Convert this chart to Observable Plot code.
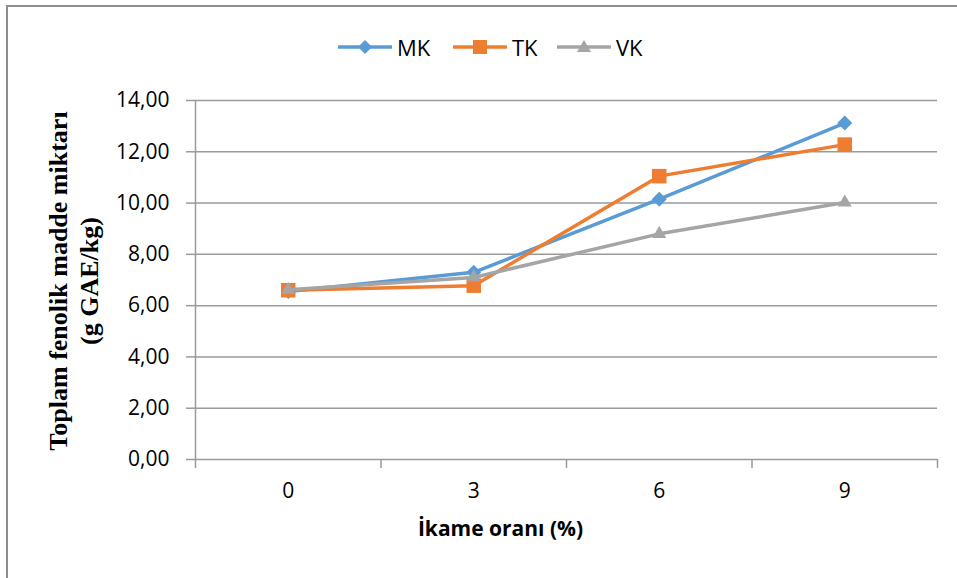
<!DOCTYPE html>
<html>
<head>
<meta charset="utf-8">
<script src="https://cdn.jsdelivr.net/npm/d3@7"></script>
<script src="https://cdn.jsdelivr.net/npm/@observablehq/plot@0.6"></script>
<style>
  html, body { margin: 0; padding: 0; background: #fff; }
  #wrap { position: relative; width: 957px; height: 578px; overflow: hidden; font-family: "Open Sans", sans-serif; }
  #border { position: absolute; left: 6px; top: 5px; right: -10px; bottom: -10px;
            border-left: 2px solid #8e8e8e; border-top: 2px solid #8e8e8e; pointer-events: none; }
  #legend { position: relative; height: 80px; }
  .item { position: absolute; top: 34px; display: flex; align-items: center; font-size: 22px; color: #000; line-height: 26px; }
  .item svg { display: block; margin-right: 5px; }
</style>
</head>
<body>
<div id="wrap">
  <div id="border"></div>
  <div id="legend"></div>
  <div id="chart"></div>
</div>
<script>
// Replacement ratio categories (%)
const categories = [0, 3, 6, 9];
// Total phenolic content (g GAE/kg) per series
const mk = [6.55, 7.30, 10.15, 13.12];
const tk = [6.60, 6.78, 11.05, 12.28];
const vk = [6.62, 7.10, 8.80, 10.02];
const seriesNames = ["MK", "TK", "VK"];
const seriesColors = ["#5B9BD5", "#ED7D31", "#A5A5A5"];
const yTicks = [0, 2, 4, 6, 8, 10, 12, 14];
const xTitle = "İkame oranı (%)";
const yTitle = "Toplam fenolik madde miktarı\n(g GAE/kg)";

const values = [mk, tk, vk];
const rows = seriesNames.flatMap((s, i) => categories.map((c, j) => ({series: s, x: c, y: values[i][j]})));

const grey = "#9a9a9a";
const markerStyle = {
  MK: {symbol: "square", r: 6, rotate: 45},
  TK: {symbol: "square", r: 8.2, rotate: 0},
  VK: {symbol: "triangle", r: 5.2, rotate: 0}
};

const seriesMarks = seriesNames.flatMap((s, i) => {
  const data = rows.filter(d => d.series === s);
  const m = markerStyle[s];
  return [
    Plot.line(data, {x: "x", y: "y", stroke: seriesColors[i], strokeWidth: 3.5}),
    Plot.dot(data, {x: "x", y: "y", symbol: m.symbol, r: m.r, rotate: m.rotate, fill: seriesColors[i], stroke: "none"})
  ];
});

const chart = Plot.plot({
  width: 957,
  height: 498,
  marginTop: 20,
  marginLeft: 195,
  marginRight: 20,
  marginBottom: 119,
  style: {fontFamily: "'Open Sans', sans-serif", fontSize: "21px", color: "#000", background: "transparent", overflow: "visible"},
  x: {type: "linear", domain: [-1.5, 10.5]},
  y: {domain: [0, 14]},
  marks: [
    Plot.gridY(yTicks.slice(1), {stroke: grey, strokeOpacity: 1, strokeWidth: 1.5}),
    Plot.ruleY([0], {stroke: grey, strokeWidth: 1.5}),
    Plot.ruleX([-1.5], {stroke: grey, strokeWidth: 1.5}),
    Plot.axisY(yTicks, {tickSize: 9, tickPadding: 17, stroke: grey, strokeWidth: 1.5, fill: "#000",
      tickFormat: d => d.toFixed(2).replace(".", ","), label: null}),
    Plot.axisX([-1.5, 1.5, 4.5, 7.5, 10.5], {tickSize: 9, stroke: grey, strokeWidth: 1.5, tickFormat: () => "", label: null}),
    Plot.axisX(categories, {tickSize: 0, tickPadding: 24, fill: "#000", label: null}),
    Plot.text([xTitle], {frameAnchor: "bottom", dx: -66, dy: 76, text: d => d, fontWeight: "bold", fontSize: 21, fill: "#000"}),
    Plot.text([yTitle], {frameAnchor: "left", textAnchor: "middle", lineAnchor: "middle", dx: -123, dy: 1, rotate: -90, text: d => d,
      fontFamily: "'Liberation Serif', serif", fontWeight: "bold", fontSize: 26, lineHeight: 1.2, fill: "#000"}),
    ...seriesMarks
  ]
});
document.getElementById("chart").appendChild(chart);

// Legend: line swatch with marker, then series name
const legend = document.getElementById("legend");
const legendLeft = [338, 453, 557];
const swatchPaths = {
  MK: "M27,3 L34,10 L27,17 L20,10 Z",
  TK: "M20,3 L34,3 L34,17 L20,17 Z",
  VK: "M27,3 L34,15 L20,15 Z"
};
seriesNames.forEach((s, i) => {
  const item = document.createElement("div");
  item.className = "item";
  item.style.left = legendLeft[i] + "px";
  item.innerHTML =
    `<svg width="54" height="20" viewBox="0 0 54 20">` +
    `<line x1="1" y1="10" x2="53" y2="10" stroke="${seriesColors[i]}" stroke-width="3.5" stroke-linecap="round"/>` +
    `<path d="${swatchPaths[s]}" fill="${seriesColors[i]}"/></svg><span>${s}</span>`;
  legend.appendChild(item);
});
</script>
</body>
</html>
